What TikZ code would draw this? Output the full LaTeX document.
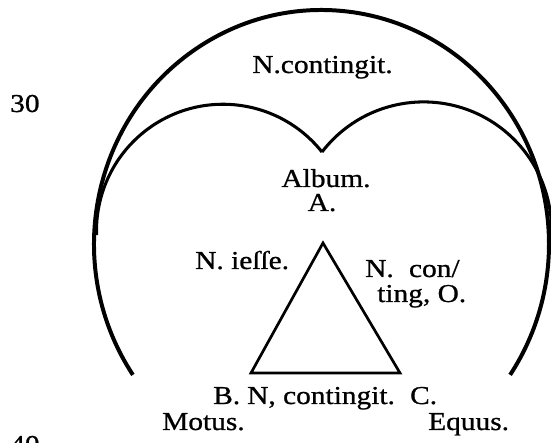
\documentclass[tikz,border=0pt]{standalone}
\usepackage{fontspec}
\setmainfont{Liberation Serif}[FakeStretch=1.14,FakeBold=0.9]
\begin{document}
\begin{tikzpicture}[x=0.03cm,y=0.03cm,
  outerline/.style={line width=3.4pt},
  innerline/.style={line width=2.6pt},
  triline/.style={line width=2.3pt, line join=miter},
  lbl/.style={inner sep=0pt, font=\fontsize{22}{24}\selectfont}]
\useasboundingbox (0,0) rectangle (551,443);
% outer arc
\coordinate (oc) at (321.5,199);
\draw[outerline] (oc) ++(214:227.5 and 234) arc[start angle=214, end angle=-34, x radius=227.5, y radius=234];
% inner heart
\coordinate (cusp) at (322,291);
\draw[innerline] (cusp) arc[start angle=38.5, end angle=182, radius=126.5];
\draw[innerline] (cusp) arc[start angle=142.5, end angle=-2, radius=128];
% triangle
\coordinate (tA) at (323,200);
\coordinate (tB) at (251,70);
\coordinate (tC) at (400,70);
\draw[triline] (tA) -- (tB) -- (tC) -- cycle;
% labels
\node[lbl, anchor=base] (top) at (322.5,370) {N.contingit.};
\node[lbl, anchor=base] (album) at (326,256) {Album.};
\node[lbl, anchor=base] (la) at (322,232) {A.};
\node[lbl, anchor=base west] (iesse) at (195,174) {N. ieſſe.};
\node[lbl, anchor=base west] (con) at (365,166) {N.\hspace{13pt}con/};
\node[lbl, anchor=base west] (ting) at (377,141) {ting, O.};
\node[lbl, anchor=base west] (base) at (213,39) {B.\hspace{6pt}N, contingit.\hspace{13pt}C.};
\node[lbl, anchor=base west] (motus) at (162,13) {Motus.};
\node[lbl, anchor=base west] (equus) at (428,13) {Equus.};
\node[lbl, anchor=base west] (n30) at (10,331) {30};
\begin{scope}
\clip (0,0) rectangle (551,443);
\node[lbl, anchor=base west] (n40) at (10,-10) {40};
\end{scope}
\end{tikzpicture}
\end{document}
